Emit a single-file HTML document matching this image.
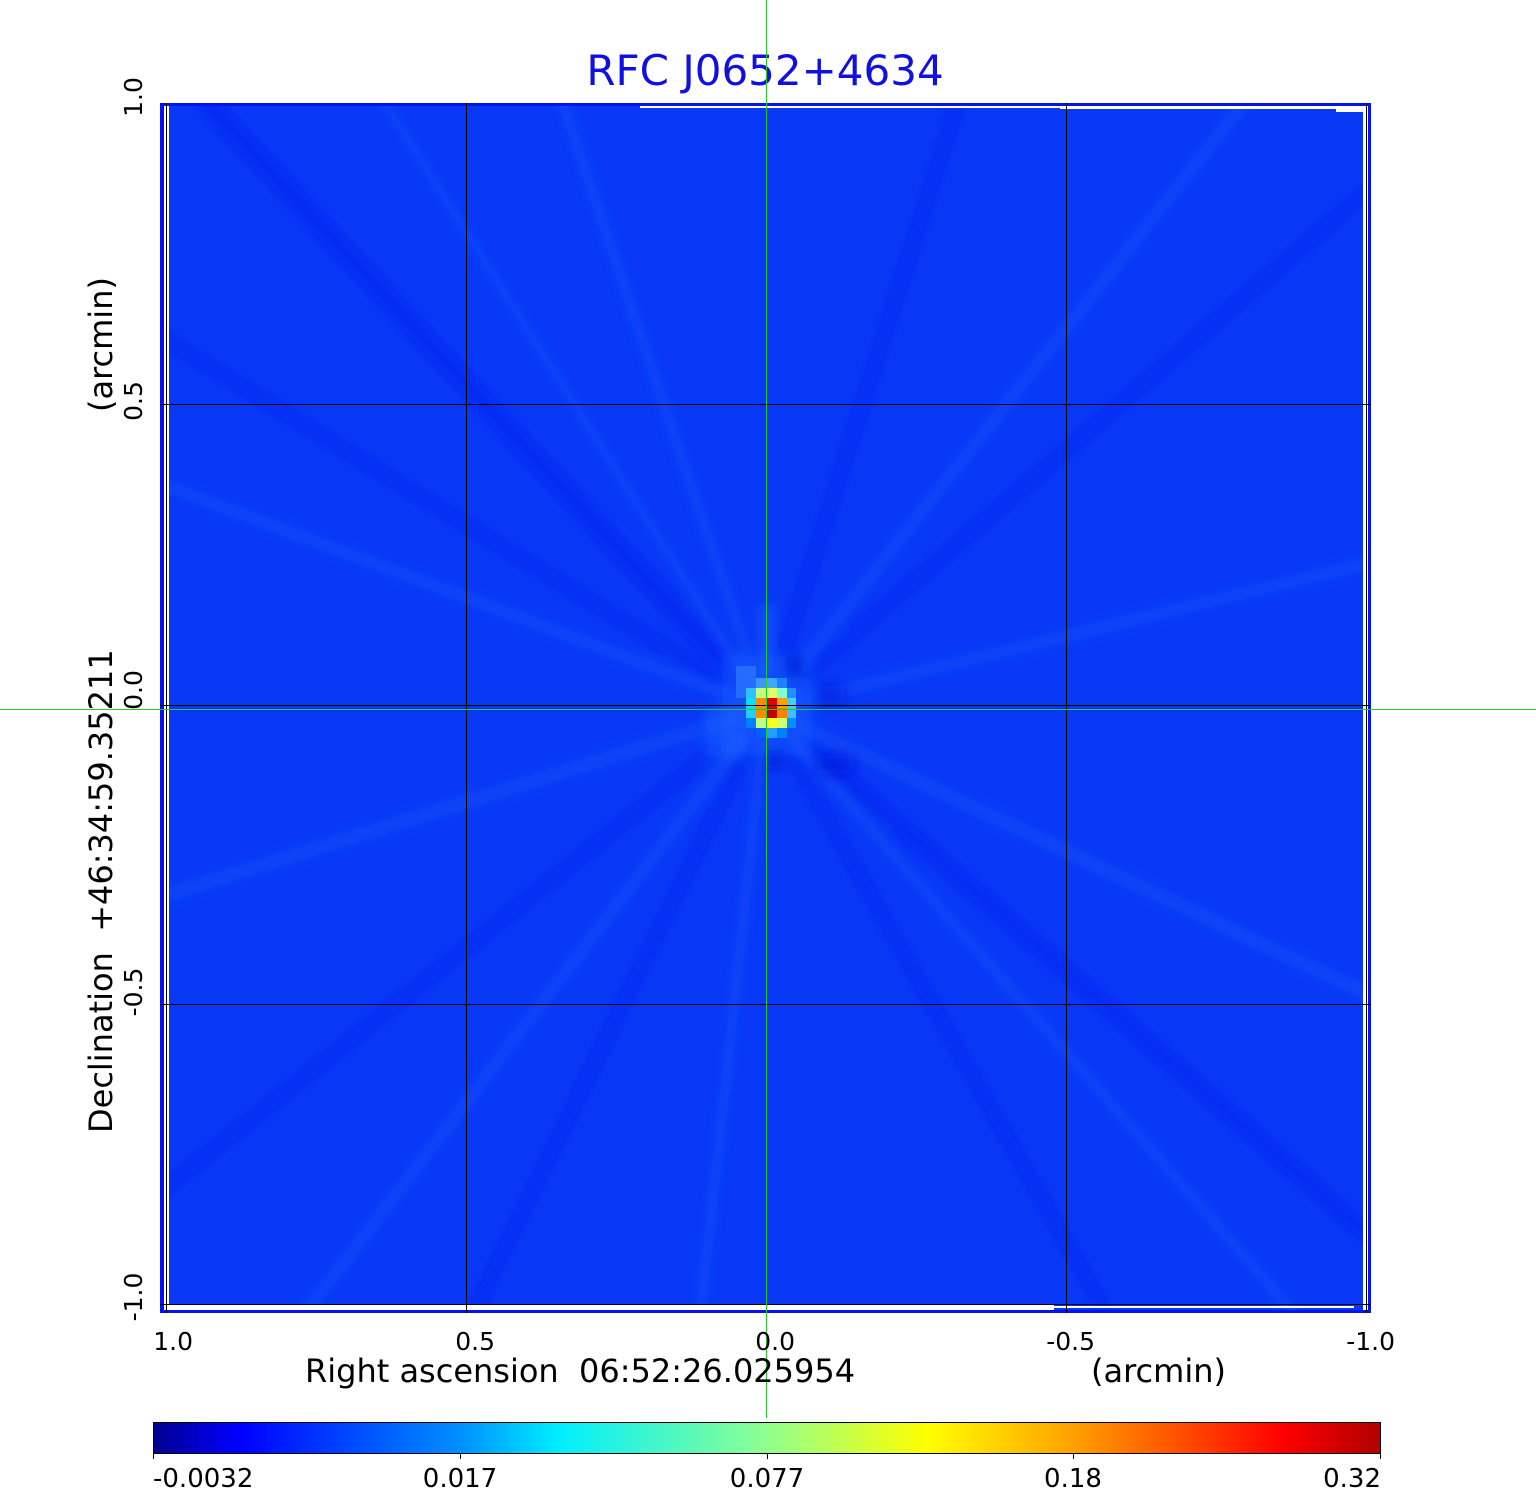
<!DOCTYPE html>
<html>
<head>
<meta charset="utf-8">
<style>
  html,body{margin:0;padding:0;background:#ffffff;}
  body{width:1536px;height:1511px;overflow:hidden;}
  svg{display:block;}
  text{font-family:"DejaVu Sans","Liberation Sans",sans-serif;}
</style>
</head>
<body>
<svg width="1536" height="1511" viewBox="0 0 1536 1511" xmlns="http://www.w3.org/2000/svg">
  <defs>
    <linearGradient id="jet" x1="0" y1="0" x2="1" y2="0">
      <stop offset="0" stop-color="#000090"/>
      <stop offset="0.07" stop-color="#0000ff"/>
      <stop offset="0.25" stop-color="#0090ff"/>
      <stop offset="0.33" stop-color="#00eeff"/>
      <stop offset="0.5" stop-color="#90ff90"/>
      <stop offset="0.63" stop-color="#ffff00"/>
      <stop offset="0.75" stop-color="#ffa000"/>
      <stop offset="0.92" stop-color="#ff0000"/>
      <stop offset="1" stop-color="#b00000"/>
    </linearGradient>
    <clipPath id="img">
      <rect x="164" y="106" width="1204" height="1204"/>
    </clipPath>
    <filter id="blur" x="-10%" y="-10%" width="120%" height="120%">
      <feGaussianBlur stdDeviation="5"/>
    </filter>
    <filter id="blur2" x="-50%" y="-50%" width="200%" height="200%">
      <feGaussianBlur stdDeviation="6"/>
    </filter>
  </defs>

  <!-- Title -->
  <text x="765" y="85" font-size="42" text-anchor="middle" fill="#1010e0">RFC J0652+4634</text>

  <!-- Outer blue frame -->
  <rect x="160" y="103" width="1211" height="1210" fill="#0512f4"/>
  <!-- image base -->
  <rect x="164" y="106" width="1204" height="1204" fill="#0838f6"/>

  <!-- Streaks (subtle) -->
  <g clip-path="url(#img)">
    <g filter="url(#blur)">
      <g stroke="#0018f0" opacity="0.45">
        <line x1="766" y1="709" x2="200" y2="95" stroke-width="18"/>
        <line x1="766" y1="709" x2="150" y2="330" stroke-width="10"/>
        <line x1="766" y1="709" x2="1380" y2="1245" stroke-width="14"/>
        <line x1="766" y1="709" x2="1110" y2="1320" stroke-width="10"/>
        <line x1="766" y1="709" x2="470" y2="1320" stroke-width="10"/>
        <line x1="766" y1="709" x2="1380" y2="180" stroke-width="10"/>
        <line x1="766" y1="709" x2="960" y2="95" stroke-width="10"/>
        <line x1="766" y1="709" x2="150" y2="1200" stroke-width="10"/>
      </g>
      <g stroke="#1c58fa" opacity="0.4">
        <line x1="766" y1="709" x2="150" y2="480" stroke-width="12"/>
        <line x1="766" y1="709" x2="150" y2="900" stroke-width="14"/>
        <line x1="766" y1="709" x2="300" y2="1320" stroke-width="12"/>
        <line x1="766" y1="709" x2="1380" y2="1000" stroke-width="14"/>
        <line x1="766" y1="709" x2="1380" y2="560" stroke-width="12"/>
        <line x1="766" y1="709" x2="1250" y2="95" stroke-width="12"/>
        <line x1="766" y1="709" x2="560" y2="95" stroke-width="10"/>
        <line x1="766" y1="709" x2="700" y2="1320" stroke-width="10"/>
        <line x1="766" y1="709" x2="1300" y2="1320" stroke-width="10"/>
        <line x1="766" y1="709" x2="380" y2="95" stroke-width="8"/>
      </g>
    </g>
  </g>

  <!-- Halo around source -->
  <g filter="url(#blur2)">
    <rect x="722" y="655" width="90" height="100" fill="#1a5cff" opacity="0.55"/>
    <rect x="760" y="605" width="14" height="70" fill="#1a60ff" opacity="0.6"/>
    <rect x="705" y="708" width="40" height="50" fill="#1a60ff" opacity="0.55"/>
    <rect x="786" y="656" width="18" height="22" fill="#0014d0" opacity="0.7"/>
    <rect x="816" y="686" width="28" height="18" fill="#0018d8" opacity="0.6"/>
    <rect x="768" y="750" width="15" height="18" fill="#0014d0" opacity="0.7"/>
    <rect x="818" y="756" width="36" height="18" fill="#0018d8" opacity="0.6"/>
  </g>
  <rect x="736" y="666" width="20" height="32" fill="#2a74ff" opacity="0.8"/>

  <!-- Source cells -->
  <g>
    <rect x="756" y="678" width="11" height="10" fill="#3c98ff"/>
    <rect x="767" y="678" width="10" height="10" fill="#40a8ff"/>
    <rect x="777" y="678" width="10" height="10" fill="#2080ff"/>

    <rect x="746" y="688" width="10" height="10" fill="#30c0ff"/>
    <rect x="756" y="688" width="11" height="10" fill="#c0ff80"/>
    <rect x="767" y="688" width="10" height="10" fill="#e0ff60"/>
    <rect x="777" y="688" width="10" height="10" fill="#80ffd0"/>
    <rect x="787" y="688" width="9" height="10" fill="#2090ff"/>

    <rect x="746" y="698" width="10" height="10" fill="#00e0ff"/>
    <rect x="756" y="698" width="11" height="10" fill="#ff8c00"/>
    <rect x="767" y="698" width="10" height="10" fill="#e00000"/>
    <rect x="777" y="698" width="10" height="10" fill="#ffa000"/>
    <rect x="787" y="698" width="9" height="10" fill="#40d0ff"/>

    <rect x="746" y="708" width="10" height="10" fill="#20d0ff"/>
    <rect x="756" y="708" width="11" height="10" fill="#ff8c00"/>
    <rect x="767" y="708" width="10" height="10" fill="#c00000"/>
    <rect x="777" y="708" width="10" height="10" fill="#ff8000"/>
    <rect x="787" y="708" width="9" height="10" fill="#40c0ff"/>

    <rect x="746" y="718" width="10" height="10" fill="#0080ff"/>
    <rect x="756" y="718" width="11" height="10" fill="#c0ff80"/>
    <rect x="767" y="718" width="10" height="10" fill="#ffff20"/>
    <rect x="777" y="718" width="10" height="10" fill="#d0ff70"/>
    <rect x="787" y="718" width="9" height="10" fill="#0090ff"/>

    <rect x="756" y="728" width="11" height="10" fill="#0060ff"/>
    <rect x="767" y="728" width="10" height="10" fill="#20a0ff"/>
    <rect x="777" y="728" width="10" height="10" fill="#0080ff"/>
  </g>

  <!-- White gaps at image edges -->
  <rect x="164" y="106" width="5" height="1204" fill="#ffffff"/>
  <rect x="1363" y="106" width="5" height="1204" fill="#ffffff"/>
  <rect x="164" y="1304" width="890" height="6" fill="#ffffff"/>
  <rect x="1054" y="1306" width="300" height="2" fill="#ffffff"/>
  <rect x="640" y="106" width="420" height="2" fill="#ffffff"/>
  <rect x="1060" y="106" width="276" height="3" fill="#ffffff"/>
  <rect x="1336" y="106" width="30" height="6" fill="#ffffff"/>

  <!-- Grid lines -->
  <g stroke="#000000" stroke-width="1">
    <line x1="166.5" y1="103" x2="166.5" y2="1313"/>
    <line x1="466.5" y1="103" x2="466.5" y2="1313"/>
    <line x1="766.5" y1="103" x2="766.5" y2="1313"/>
    <line x1="1066.5" y1="103" x2="1066.5" y2="1313"/>
    <line x1="1366.5" y1="103" x2="1366.5" y2="1313"/>
    <line x1="160" y1="404.5" x2="1371" y2="404.5"/>
    <line x1="160" y1="705.5" x2="1371" y2="705.5"/>
    <line x1="160" y1="1004.5" x2="1371" y2="1004.5"/>
    <line x1="160" y1="1304.5" x2="1371" y2="1304.5"/>
  </g>

  <!-- Green crosshair -->
  <line x1="766.5" y1="0" x2="766.5" y2="1418" stroke="#22cc22" stroke-width="1"/>
  <line x1="0" y1="709.5" x2="1536" y2="709.5" stroke="#22cc22" stroke-width="1"/>

  <!-- Y axis labels -->
  <g font-size="25" fill="#000" text-anchor="middle">
    <text transform="translate(142,97) rotate(-90)">1.0</text>
    <text transform="translate(142,401) rotate(-90)">0.5</text>
    <text transform="translate(142,690) rotate(-90)">0.0</text>
    <text transform="translate(142,992) rotate(-90)">-0.5</text>
    <text transform="translate(142,1297) rotate(-90)">-1.0</text>
  </g>
  <text transform="translate(112,1133) rotate(-90)" font-size="32" fill="#000" xml:space="preserve">Declination  +46:34:59.35211</text>
  <text transform="translate(112,412) rotate(-90)" font-size="32" fill="#000">(arcmin)</text>

  <!-- X axis labels -->
  <g font-size="25" fill="#000" text-anchor="end">
    <text x="193" y="1350">1.0</text>
    <text x="495" y="1350">0.5</text>
    <text x="795" y="1350">0.0</text>
    <text x="1095" y="1350">-0.5</text>
    <text x="1395" y="1350">-1.0</text>
  </g>
  <text x="305" y="1382" font-size="32" fill="#000" xml:space="preserve">Right ascension  06:52:26.025954</text>
  <text x="1091" y="1382" font-size="32" fill="#000">(arcmin)</text>

  <!-- Colorbar -->
  <rect x="153.5" y="1422.5" width="1227" height="31" fill="url(#jet)" stroke="#000" stroke-width="1"/>
  <g stroke="#000" stroke-width="1">
    <line x1="153.5" y1="1453" x2="153.5" y2="1459"/>
    <line x1="460.5" y1="1453" x2="460.5" y2="1459"/>
    <line x1="767.5" y1="1453" x2="767.5" y2="1459"/>
    <line x1="1073.5" y1="1453" x2="1073.5" y2="1459"/>
    <line x1="1380.5" y1="1453" x2="1380.5" y2="1459"/>
  </g>
  <g font-size="26" fill="#000">
    <text x="153" y="1487">-0.0032</text>
    <text x="460" y="1487" text-anchor="middle">0.017</text>
    <text x="767" y="1487" text-anchor="middle">0.077</text>
    <text x="1073" y="1487" text-anchor="middle">0.18</text>
    <text x="1381" y="1487" text-anchor="end">0.32</text>
  </g>
</svg>
</body>
</html>
